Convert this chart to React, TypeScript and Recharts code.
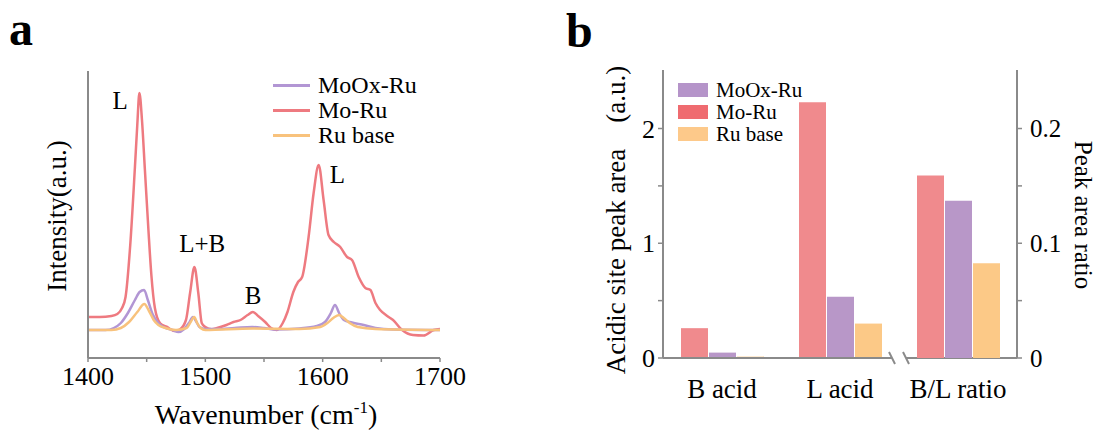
import React from 'react';
import { LineChart, Line, XAxis, YAxis, ReferenceDot, Legend, Label, BarChart, Bar } from 'recharts';

const SERIF = '"Liberation Serif", "Times New Roman", Times, serif';
const FRAME = '#8a8a8a';

// ---------- Panel a : spectra ----------
const wnMoRu = [1400, 1410, 1420, 1425, 1429, 1432, 1436, 1440, 1442, 1443.8, 1446, 1448.5, 1451.5, 1454, 1457, 1461.5, 1467, 1474, 1478.5, 1483.5, 1487, 1490.7, 1494, 1497, 1500, 1505.5, 1510, 1518, 1524, 1530, 1536, 1540.5, 1545, 1551, 1556, 1561, 1566, 1570, 1575, 1579, 1582.5, 1588, 1592.3, 1596.6, 1600.8, 1605, 1609.5, 1615, 1620.8, 1625, 1630.7, 1636.4, 1640.7, 1645, 1649, 1655, 1660, 1667.7, 1677, 1686, 1694.6, 1700];
const moRu = [0.13, 0.13, 0.14, 0.16, 0.22, 0.33, 0.85, 1.63, 2.05, 2.37, 2.1, 1.6, 1.0, 0.55, 0.22, 0.067, 0.033, -0.01, 0.007, 0.1, 0.37, 0.63, 0.37, 0.067, 0.03, 0.007, 0.02, 0.05, 0.08, 0.1, 0.15, 0.18, 0.14, 0.08, 0.02, 0, 0.07, 0.18, 0.38, 0.48, 0.53, 0.93, 1.37, 1.65, 1.3, 0.95, 0.88, 0.83, 0.73, 0.7, 0.53, 0.42, 0.4, 0.27, 0.2, 0.14, 0.1, 0, -0.05, -0.055, 0.0, 0.01];

const wnMoOx = [1400, 1415, 1422, 1428, 1434, 1440, 1444, 1447.8, 1451, 1455, 1460, 1466, 1472, 1477, 1482, 1486, 1489.5, 1492, 1495, 1500, 1510, 1525, 1540, 1550, 1560, 1580, 1595, 1602, 1607, 1610.5, 1614, 1618, 1625, 1635, 1645, 1660, 1700];
const moOx = [0, 0, 0.02, 0.07, 0.17, 0.3, 0.38, 0.4, 0.3, 0.16, 0.07, 0.02, 0, -0.02, 0.01, 0.07, 0.13, 0.09, 0.03, 0.01, 0.01, 0.02, 0.03, 0.02, 0.005, 0.015, 0.04, 0.08, 0.17, 0.25, 0.17, 0.1, 0.075, 0.05, 0.02, 0.005, 0];

const wnRu = [1400, 1420, 1428, 1435, 1442, 1448, 1452, 1456, 1460, 1466, 1475, 1484, 1487.5, 1490.5, 1493, 1496, 1500, 1540, 1580, 1598, 1604, 1609, 1614, 1618, 1623, 1630, 1645, 1700];
const ruBase = [0, 0, 0.02, 0.08, 0.18, 0.26, 0.19, 0.1, 0.05, 0.02, 0, 0.02, 0.08, 0.13, 0.07, 0.02, 0, 0.015, 0.01, 0.03, 0.07, 0.12, 0.15, 0.12, 0.07, 0.03, 0.01, 0];

const xTicksA = [1400, 1450, 1500, 1550, 1600, 1650, 1700];
const peakLabels = ['L', 'L+B', 'B', 'L'];
const peakLabelX = [1427.3, 1497.3, 1540.8, 1612.5];
const peakLabelY = [2.3, 0.87, 0.35, 1.555];

// ---------- Panel b : bars ----------
const categories = ['B acid', 'L acid', 'B/L ratio'];
const areaMoRu = [0.26, 2.23];
const areaMoOx = [0.047, 0.534];
const areaRu = [0.012, 0.3];
const ratioMoRu = [0.159];
const ratioMoOx = [0.137];
const ratioRu = [0.0826];
const leftTicksB = [0, 0.5, 1, 1.5, 2];
const rightTicksB = [0, 0.05, 0.1, 0.15, 0.2];

const legendOrder = ['MoOx-Ru', 'Mo-Ru', 'Ru base'];
const lineColors: Record<string, string> = { 'MoOx-Ru': '#B296D4', 'Mo-Ru': '#EE7A80', 'Ru base': '#F8C27C' };
const barColors: Record<string, string> = { 'MoOx-Ru': '#B897C8', 'Mo-Ru': '#F08A8D', 'Ru base': '#FCC987' };
const barLegendColors: Record<string, string> = { 'MoOx-Ru': '#B594C9', 'Mo-Ru': '#EF6B70', 'Ru base': '#FDC98A' };

// merged spectrum table
const allWn = Array.from(new Set([...wnMoRu, ...wnMoOx, ...wnRu])).sort((a, b) => a - b);
const spectra = allWn.map((w) => {
  const row: any = { wn: w };
  const i1 = wnMoRu.indexOf(w);
  const i2 = wnMoOx.indexOf(w);
  const i3 = wnRu.indexOf(w);
  if (i1 >= 0) row.moRu = moRu[i1];
  if (i2 >= 0) row.moOx = moOx[i2];
  if (i3 >= 0) row.ru = ruBase[i3];
  return row;
});

const areaTable = categories.map((c, i) =>
  i < areaMoRu.length ? { cat: c, moRu: areaMoRu[i], moOx: areaMoOx[i], ru: areaRu[i] } : { cat: c }
);
const ratioTable = categories.map((c, i) =>
  i >= areaMoRu.length
    ? { cat: c, moRu: ratioMoRu[i - areaMoRu.length], moOx: ratioMoOx[i - areaMoRu.length], ru: ratioRu[i - areaMoRu.length] }
    : { cat: c }
);

const LegendA = () => (
  <div style={{ fontFamily: SERIF, fontSize: 24, color: '#000' }}>
    {legendOrder.map((n) => (
      <div key={n} style={{ display: 'flex', alignItems: 'center', height: 25, whiteSpace: 'nowrap' }}>
        <div style={{ width: 37, height: 3, background: lineColors[n], marginRight: 8, flex: 'none' }} />
        <span style={{ display: 'block', height: 25, lineHeight: '25px', overflow: 'visible' }}>{n}</span>
      </div>
    ))}
  </div>
);

const LegendB = () => (
  <div style={{ fontFamily: SERIF, fontSize: 21, color: '#000' }}>
    {legendOrder.map((n) => (
      <div key={n} style={{ display: 'flex', alignItems: 'center', height: 22, whiteSpace: 'nowrap' }}>
        <div style={{ width: 30, height: 14, background: barLegendColors[n], marginRight: 8, flex: 'none' }} />
        <span style={{ display: 'block', height: 20, lineHeight: '20px', overflow: 'visible' }}>{n}</span>
      </div>
    ))}
  </div>
);

const tickStyle = (size: number) => ({ fontSize: size, fill: '#000', fontFamily: SERIF });

export default function App() {
  return (
    <div style={{ position: 'absolute', left: 0, top: 0, width: 1097, height: 430, background: '#fff', overflow: 'hidden' }}>
      {/* Panel a */}
      <div style={{ position: 'absolute', left: 0, top: 0 }}>
        <LineChart width={540} height={430} data={spectra} margin={{ top: 71, right: 100, bottom: 0, left: 0 }}>
          <XAxis
            dataKey="wn"
            type="number"
            domain={[1400, 1700]}
            allowDataOverflow
            ticks={xTicksA}
            interval={0}
            tickFormatter={(v: number) => (v % 100 === 0 ? String(v) : '')}
            tickSize={4}
            tickMargin={5}
            tick={tickStyle(26)}
            tickLine={{ stroke: FRAME, strokeWidth: 1.5 }}
            axisLine={{ stroke: FRAME, strokeWidth: 2 }}
            height={72}
          >
            <Label
              content={() => (
                <text x={266} y={424} textAnchor="middle" fontFamily={SERIF} fontSize={28} fill="#000">
                  Wavenumber (cm<tspan dy={-11} fontSize={17}>-1</tspan><tspan dy={11}>)</tspan>
                </text>
              )}
            />
          </XAxis>
          <XAxis xAxisId="top" orientation="top" dataKey="wn" type="number" domain={[1400, 1700]} allowDataOverflow height={0} tick={false} tickLine={false} axisLine={{ stroke: FRAME, strokeWidth: 2 }} />
          <YAxis domain={[-0.28, 2.59]} allowDataOverflow width={88} tick={false} tickLine={false} axisLine={{ stroke: FRAME, strokeWidth: 2 }}>
            <Label
              content={() => (
                <text x={66} y={216} transform="rotate(-90, 66, 216)" textAnchor="middle" fontFamily={SERIF} fontSize={27} fill="#000">
                  Intensity(a.u.)
                </text>
              )}
            />
          </YAxis>
          <YAxis yAxisId="r" orientation="right" domain={[-0.28, 2.59]} width={0} tick={false} tickLine={false} axisLine={{ stroke: FRAME, strokeWidth: 2 }} />
          <Line type="monotone" dataKey="moRu" name="Mo-Ru" stroke={lineColors['Mo-Ru']} strokeWidth={2.5} dot={false} connectNulls isAnimationActive={false} />
          <Line type="monotone" dataKey="moOx" name="MoOx-Ru" stroke={lineColors['MoOx-Ru']} strokeWidth={2.5} dot={false} connectNulls isAnimationActive={false} />
          <Line type="monotone" dataKey="ru" name="Ru base" stroke={lineColors['Ru base']} strokeWidth={2.5} dot={false} connectNulls isAnimationActive={false} />
          {peakLabels.map((t, i) => (
            <ReferenceDot
              key={i}
              x={peakLabelX[i]}
              y={peakLabelY[i]}
              r={0}
              fill="none"
              stroke="none"
              ifOverflow="visible"
              label={{ value: t, position: 'center', fontSize: 25, fill: '#000', fontFamily: SERIF }}
            />
          ))}
          <Legend
            layout="vertical"
            align="center"
            verticalAlign="middle"
            content={LegendA}
            wrapperStyle={{ left: 273, top: 73, width: 200, height: 75 }}
          />
        </LineChart>
      </div>

      {/* Panel b: areas (left axis) */}
      <div style={{ position: 'absolute', left: 540, top: 0 }}>
        <BarChart width={557} height={430} data={areaTable} margin={{ top: 70, right: 80, bottom: 0, left: 0 }} barCategoryGap={18} barGap={1}>
          <XAxis
            dataKey="cat"
            interval={0}
            height={72}
            tickLine={false}
            tickSize={0}
            tickMargin={21}
            tick={tickStyle(27)}
            axisLine={{ stroke: FRAME, strokeWidth: 2, strokeDasharray: '229 14 400' }}
          />
          <XAxis xAxisId="top" orientation="top" dataKey="cat" height={0} tick={false} tickLine={false} axisLine={{ stroke: FRAME, strokeWidth: 2 }} />
          <YAxis
            yAxisId="l"
            width={123}
            domain={[0, 2.51]}
            allowDataOverflow
            ticks={leftTicksB}
            interval={0}
            tickFormatter={(v: number) => (Number.isInteger(v) ? String(v) : '')}
            tickSize={5}
            tickMargin={3}
            tick={tickStyle(26)}
            tickLine={{ stroke: FRAME, strokeWidth: 1.5 }}
            axisLine={{ stroke: FRAME, strokeWidth: 2 }}
          >
            <Label
              content={() => (
                <text x={85} y={220} transform="rotate(-90, 85, 220)" textAnchor="middle" fontFamily={SERIF} fontSize={27} fill="#000">
                  Acidic site peak area<tspan dx={26}>(a.u.)</tspan>
                </text>
              )}
            />
          </YAxis>
          <Bar yAxisId="l" dataKey="moRu" name="Mo-Ru" fill={barColors['Mo-Ru']} isAnimationActive={false} />
          <Bar yAxisId="l" dataKey="moOx" name="MoOx-Ru" fill={barColors['MoOx-Ru']} isAnimationActive={false} />
          <Bar yAxisId="l" dataKey="ru" name="Ru base" fill={barColors['Ru base']} isAnimationActive={false} />
          <Legend
            layout="vertical"
            align="center"
            verticalAlign="middle"
            content={LegendB}
            wrapperStyle={{ left: 138, top: 79, width: 160, height: 66 }}
          />
        </BarChart>
      </div>

      {/* Panel b: ratio (right axis) */}
      <div style={{ position: 'absolute', left: 540, top: 0 }}>
        <BarChart width={557} height={430} data={ratioTable} margin={{ top: 70, right: 0, bottom: 72, left: 123 }} barCategoryGap={18} barGap={1}>
          <XAxis dataKey="cat" hide />
          <YAxis
            yAxisId="r"
            orientation="right"
            width={80}
            domain={[0, 0.251]}
            allowDataOverflow
            ticks={rightTicksB}
            interval={0}
            tickFormatter={(v: number) => (Math.abs(v * 10 - Math.round(v * 10)) < 1e-9 ? (v === 0 ? '0' : v.toFixed(1)) : '')}
            tickSize={5}
            tickMargin={8}
            tick={tickStyle(25)}
            tickLine={{ stroke: FRAME, strokeWidth: 1.5 }}
            axisLine={{ stroke: FRAME, strokeWidth: 2 }}
          >
            <Label
              content={() => (
                <text x={535} y={215} transform="rotate(90, 535, 215)" textAnchor="middle" fontFamily={SERIF} fontSize={25} fill="#000">
                  Peak area ratio
                </text>
              )}
            />
          </YAxis>
          <Bar yAxisId="r" dataKey="moRu" name="Mo-Ru" fill={barColors['Mo-Ru']} isAnimationActive={false} />
          <Bar yAxisId="r" dataKey="moOx" name="MoOx-Ru" fill={barColors['MoOx-Ru']} isAnimationActive={false} />
          <Bar yAxisId="r" dataKey="ru" name="Ru base" fill={barColors['Ru base']} isAnimationActive={false} />
        </BarChart>
      </div>

      {/* panel letters and axis-break marks */}
      <svg width={1097} height={430} style={{ position: 'absolute', left: 0, top: 0, pointerEvents: 'none' }}>
        <text x={9} y={45} fontFamily={SERIF} fontWeight="bold" fontSize={48} fill="#000">a</text>
        <text x={566} y={47} fontFamily={SERIF} fontWeight="bold" fontSize={48} fill="#000">b</text>
        <line x1={889} y1={352} x2={895} y2={364} stroke={FRAME} strokeWidth={2} />
        <line x1={903} y1={352} x2={909} y2={364} stroke={FRAME} strokeWidth={2} />
      </svg>
    </div>
  );
}
